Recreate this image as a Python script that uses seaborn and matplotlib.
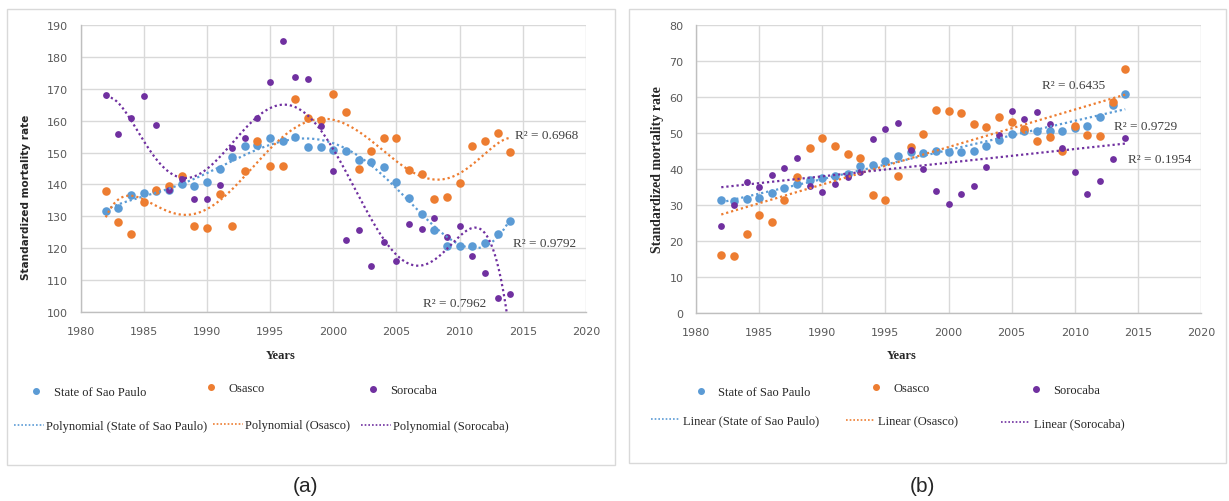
import numpy as np
import pandas as pd
import matplotlib
matplotlib.use("Agg")
import matplotlib.pyplot as plt
import seaborn as sns
from matplotlib.lines import Line2D
from matplotlib.patches import Rectangle

years = list(range(1982, 2015))

# Panel (a)
a_sao_paulo = [131.8, 132.6, 136.8, 137.4, 138.0, 138.3, 140.0, 139.4, 140.9, 144.8, 148.5,
               152.1, 152.4, 154.7, 153.7, 155.0, 151.8, 151.8, 150.9, 150.6, 147.7, 147.0,
               145.5, 140.7, 135.8, 130.8, 125.8, 120.9, 120.6, 120.6, 121.6, 124.4, 128.5]
a_osasco = [138.1, 128.3, 124.4, 134.6, 138.3, 139.6, 142.7, 126.9, 126.3, 137.1, 126.9,
            144.1, 153.7, 145.7, 145.7, 166.7, 160.7, 160.3, 168.3, 162.6, 144.8, 150.5,
            154.4, 154.6, 144.4, 143.3, 135.3, 136.2, 140.4, 151.9, 153.7, 156.0, 150.2]
a_sorocaba = [168.0, 155.9, 160.7, 167.7, 158.5, 138.4, 141.6, 135.3, 135.5, 139.7, 151.4,
              154.7, 160.8, 172.2, 184.9, 173.7, 173.0, 158.2, 144.2, 122.6, 125.8, 114.6,
              121.9, 116.2, 127.6, 126.0, 129.5, 123.6, 126.9, 117.7, 112.3, 104.4, 105.6]

# Panel (b)
b_sao_paulo = [31.3, 31.1, 31.7, 31.9, 33.3, 34.6, 35.8, 36.9, 37.6, 38.0, 38.7, 40.7, 41.1,
               42.3, 43.5, 44.8, 44.3, 45.1, 44.8, 44.8, 45.1, 46.5, 48.1, 49.8, 50.4, 50.6,
               50.6, 50.6, 51.5, 52.0, 54.5, 57.8, 60.8]
b_osasco = [16.2, 16.0, 22.0, 27.3, 25.4, 31.3, 37.7, 45.7, 48.7, 46.5, 44.2, 43.0, 32.8,
            31.3, 38.0, 46.0, 49.8, 56.4, 56.2, 55.6, 52.6, 51.7, 54.5, 53.1, 51.2, 47.9,
            48.8, 45.1, 52.0, 49.5, 49.2, 58.7, 67.8]
b_sorocaba = [24.2, 30.0, 36.3, 34.9, 38.2, 40.4, 43.0, 35.2, 33.5, 35.8, 37.9, 39.2, 48.2,
              51.2, 52.8, 45.4, 39.9, 33.8, 30.3, 33.1, 35.2, 40.5, 49.5, 56.2, 53.9, 55.9,
              52.6, 45.7, 39.1, 33.1, 36.7, 42.7, 48.5]

series_names = ["State of Sao Paulo", "Osasco", "Sorocaba"]
a_r2_labels = ["R² = 0.9792", "R² = 0.6968", "R² = 0.7962"]
b_r2_labels = ["R² = 0.9729", "R² = 0.6435", "R² = 0.1954"]
x_ticks = [1980, 1985, 1990, 1995, 2000, 2005, 2010, 2015, 2020]

colors = ["#5B9BD5", "#ED7D31", "#7030A0"]
sizes = [38, 38, 24]

sns.set_theme(style="white")
plt.rcParams["font.family"] = ["DejaVu Sans"]

W, H = 1229, 502
fig = plt.figure(figsize=(W / 100, H / 100), dpi=100)
fig.patch.set_facecolor("white")


def px_axes(x0, y0, x1, y1):
    return fig.add_axes([x0 / W, 1 - y1 / H, (x1 - x0) / W, (y1 - y0) / H])


def trend(x, y, deg):
    x = np.asarray(x, float)
    y = np.asarray(y, float)
    xc = x - x.mean()
    coef = np.polyfit(xc, y, deg)
    xs = np.linspace(x.min(), x.max(), 400)
    return xs, np.polyval(coef, xs - x.mean())


serif = ["Liberation Serif", "DejaVu Serif"]


def draw_panel(ax, data, deg, ylim, yticks):
    for vals, c, s in zip(data, colors, sizes):
        df = pd.DataFrame({"year": years, "val": vals})
        sns.scatterplot(data=df, x="year", y="val", color=c, s=s, linewidth=0,
                        ax=ax, zorder=3)
    for vals, c in zip(data, colors):
        xs, ys = trend(years, vals, deg)
        dft = pd.DataFrame({"year": xs, "val": ys})
        sns.lineplot(data=dft, x="year", y="val", color=c, lw=1.6,
                     linestyle=(0, (1, 1.3)), ax=ax, zorder=4)
    ax.set_xlim(1980, 2020)
    ax.set_ylim(*ylim)
    ax.set_xticks(x_ticks)
    ax.set_yticks(yticks)
    ax.grid(True, color="#D9D9D9", lw=1)
    ax.set_axisbelow(True)
    for k in ["top", "right"]:
        ax.spines[k].set_visible(False)
    for k in ["left", "bottom"]:
        ax.spines[k].set_color("#BFBFBF")
        ax.spines[k].set_linewidth(1)
    ax.tick_params(axis="both", length=0, labelsize=8, labelcolor="#595959")
    ax.tick_params(axis="y", pad=9)
    ax.tick_params(axis="x", pad=10)
    ax.set_xlabel("")
    ax.set_ylabel("")


# panel borders
fig.patches.append(Rectangle((7 / W, 1 - 466 / H), (615 - 7) / W, (466 - 10) / H,
                             transform=fig.transFigure, fill=False, ec="#D9D9D9", lw=1))
fig.patches.append(Rectangle((629 / W, 1 - 464 / H), (1226 - 629) / W, (464 - 10) / H,
                             transform=fig.transFigure, fill=False, ec="#D9D9D9", lw=1))

ax1 = px_axes(80.5, 25.7, 586, 313.3)
draw_panel(ax1, [a_sao_paulo, a_osasco, a_sorocaba], 6, (100, 190), list(range(100, 191, 10)))
ax2 = px_axes(696, 25.7, 1201, 314.3)
draw_panel(ax2, [b_sao_paulo, b_osasco, b_sorocaba], 1, (0, 80), list(range(0, 81, 10)))


def ftext(x, y, s, **kw):
    fig.text(x / W, 1 - y / H, s, **kw)


# axis titles
for cx in [281, 902]:
    ftext(cx, 356, "Years", ha="center", va="center", fontsize=9, fontweight="bold",
          family=serif)
ftext(26, 197, "Standardized mortality rate", ha="center", va="center", rotation=90,
      fontsize=7.6, fontweight="bold", family=["DejaVu Sans"])
ftext(657, 170, "Standardized mortality rate", ha="center", va="center", rotation=90,
      fontsize=10, fontweight="bold", family=serif)

# R² labels
for (x, y), s in zip([(513, 244), (515, 136), (423, 304)], a_r2_labels):
    ftext(x, y, s, ha="left", va="center", fontsize=9.5, family=serif, color="#404040")
for (x, y), s in zip([(1114, 127), (1042, 86), (1128, 160)], b_r2_labels):
    ftext(x, y, s, ha="left", va="center", fontsize=9.5, family=serif, color="#404040")

# panel captions
ftext(305, 487, "(a)", ha="center", va="center", fontsize=15, family=["Liberation Sans"])
ftext(922, 487, "(b)", ha="center", va="center", fontsize=15, family=["Liberation Sans"])

# legends
fs = 9


def legend_entry(handle, label, x, y, hl, pad):
    fig.legend([handle], [label], loc="center left",
               bbox_to_anchor=(x / W, 1 - y / H), frameon=False, borderpad=0,
               borderaxespad=0, handlelength=hl, handletextpad=pad,
               prop={"family": serif, "size": fs})


hpx = fs * 100 / 72
for name, c, mx, my in zip(series_names, colors, [36, 211, 373], [393, 389, 391]):
    h = Line2D([], [], marker="o", ms=4, color=c, lw=0)
    legend_entry(h, name, mx - hpx / 2, my, 1.0, 0.9)
for name, c, lx, ly in zip(series_names, colors, [14, 213, 361], [427, 426, 427]):
    h = Line2D([], [], color=c, lw=1.2, linestyle=(0, (1, 1.2)))
    legend_entry(h, f"Polynomial ({name})", lx, ly, 2.4, 0.15)

for name, c, mx, my in zip(series_names, colors, [701, 876, 1036], [393, 389, 391]):
    h = Line2D([], [], marker="o", ms=4, color=c, lw=0)
    legend_entry(h, name, mx - hpx / 2, my, 1.0, 0.9)
for name, c, lx, ly in zip(series_names, colors, [651, 846, 1001], [421, 422, 424]):
    h = Line2D([], [], color=c, lw=1.2, linestyle=(0, (1, 1.2)))
    legend_entry(h, f"Linear ({name})", lx, ly, 2.3, 0.3)

fig.savefig("out.png", dpi=100, facecolor="white")
